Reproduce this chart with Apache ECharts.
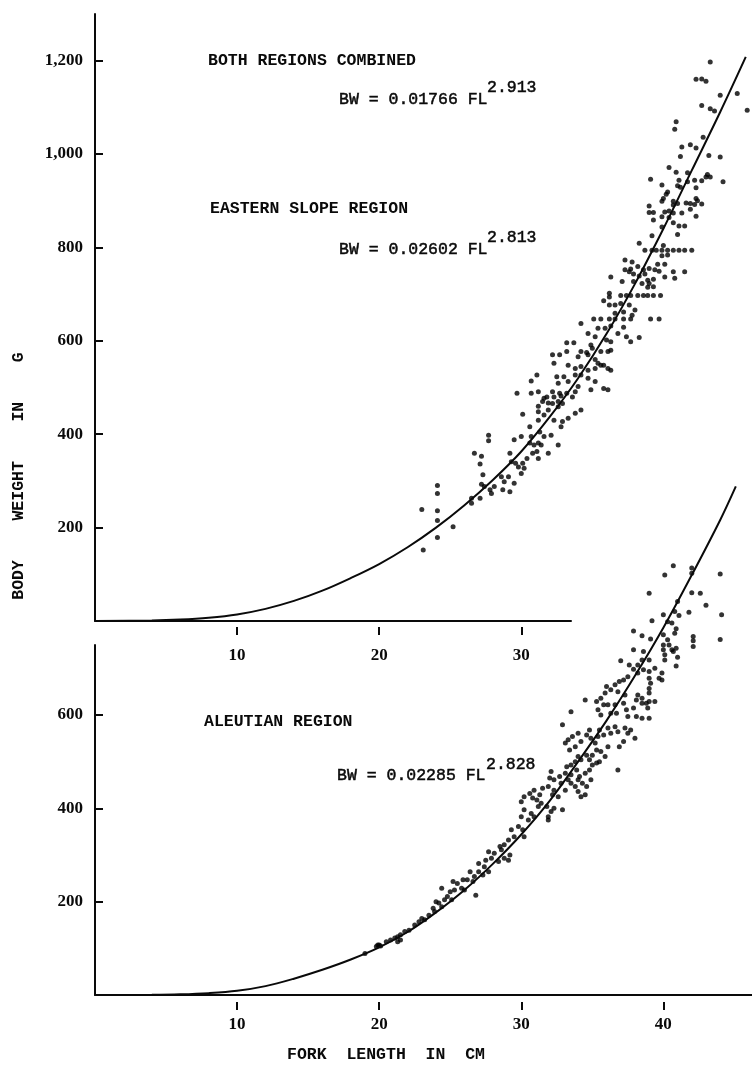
<!DOCTYPE html>
<html>
<head>
<meta charset="utf-8">
<script src="https://cdn.jsdelivr.net/npm/echarts@6/dist/echarts.min.js"></script>
<style>
html,body{margin:0;padding:0;background:#fff;}
#chart{width:752px;height:1066px;}
</style>
</head>
<body>
<div id="chart"></div>
<script>
// ---- Data ----
// Upper panel (Eastern Slope region) points: [fork length cm, body weight g]
const eastPoints = [
[43.3,1197],[42.3,1160],[42.7,1161],[43.0,1156],[44.0,1126],[45.2,1130],[42.7,1104],[43.3,1097],[43.6,1092],[45.9,1094],
[40.9,1069],[40.8,1053],[42.8,1036],[41.3,1015],[41.9,1020],[42.3,1013],[41.2,995],[43.2,997],[44.0,994],[40.4,971],
[39.1,946],[39.9,934],[40.9,961],[41.7,960],[41.1,944],[41.7,941],[42.2,944],[43.1,956],[43.3,951],[43.0,951],
[42.7,943],[44.2,941],[41.0,932],[41.2,929],[42.3,928],[40.3,919],[40.2,914],[40.0,905],[39.9,899],[42.3,905],
[42.4,900],[40.7,899],[40.7,891],[41.0,894],[41.6,895],[41.9,894],[42.2,892],[42.7,893],[39.0,889],[39.0,875],
[39.3,875],[40.1,876],[40.4,878],[40.7,874],[41.3,874],[41.9,882],[39.9,866],[40.4,864],[42.3,867],
[40.7,853],[41.1,846],[41.5,846],[39.3,859],[39.9,844],[41.0,828],[39.2,825],[38.3,809],[40.0,804],
[38.7,794],[39.2,794],[39.5,794],[39.9,794],[40.3,794],[40.7,794],[41.1,794],[41.5,794],[42.0,794],
[39.9,782],[40.3,784],[37.3,773],[37.8,769],
[39.6,764],[40.1,764],[40.7,748],[41.5,748],[40.8,734],[40.1,737],[39.7,749],[39.4,752],[39.0,755],
[37.3,752],[37.6,748],[37.7,754],[37.9,743],[38.3,739],[38.2,759],[38.6,752],[38.7,743],[38.9,730],[39.3,732],
[36.3,737],[37.1,727],[37.9,727],[38.5,723],[39.0,723],[39.3,716],[38.9,715],[36.2,702],[36.2,694],
[37.0,697],[37.4,697],[37.7,697],[38.2,697],[38.6,697],[38.9,697],[39.3,697],[39.8,697],
[35.8,686],[36.2,677],[36.6,677],[37.0,680],[37.6,677],[38.0,666],[37.8,655],[36.6,659],[37.2,662],
[34.2,637],[35.1,647],[35.6,647],[36.2,647],[36.6,647],[37.2,647],[37.7,647],[39.1,647],[39.7,647],
[35.4,627],[35.9,627],[36.3,632],[37.2,629],[36.8,616],
[34.7,616],[35.2,609],[36.0,602],[36.3,598],[37.4,609],[37.7,598],[38.3,607],
[33.2,596],[33.7,596],[34.9,591],[35.0,584],[34.2,577],[34.6,575],[35.6,577],[36.1,577],[36.3,580],
[32.2,570],[32.7,570],[33.2,577],[34.0,566],[34.7,570],[35.2,560],[35.4,552],[35.6,548],[36.3,537],[32.3,552],
[33.3,548],[33.8,541],[34.2,545],[34.7,537],[35.2,541],[35.8,548],[36.1,541],
[32.5,523],[33.0,523],[33.8,527],[34.2,527],[34.7,520],[35.2,513],[32.6,509],[33.3,513],[34.0,502],[34.9,495],
[35.8,498],[36.1,495],[32.2,491],[32.7,488],[33.2,488],[33.8,491],
[31.8,480],[32.3,480],[32.8,482],[33.6,480],
[23.0,239],[24.1,290],[24.1,273],[24.1,236],[24.1,215],[24.1,179],[23.1,152],[25.2,202],[26.7,359],[27.2,353],
[27.1,336],[27.7,398],[27.7,386],[27.3,313],[27.2,293],[27.4,288],[27.8,281],[27.9,273],[28.1,288],[28.6,309],
[28.7,281],[28.8,298],[29.1,309],[29.2,277],[29.5,295],[27.1,263],[26.5,252],[26.5,263],[29.2,359],[29.3,341],
[29.6,338],[29.8,330],[30.0,316],[30.1,338],[30.4,348],[30.2,327],[29.5,388],[30.0,395],[30.6,381],[30.7,395],
[30.9,377],[31.2,381],[31.4,377],[31.1,363],[31.2,348],[30.8,359],[31.9,359],[32.6,377],[32.1,398],[31.6,395],
[31.3,405],[30.6,416],[30.1,443],[31.2,430],[31.6,441],[31.2,448],[31.9,452],[32.3,430],[32.8,416],[32.9,427],
[33.3,434],[33.8,445],[34.2,452],[32.6,459],[31.5,470],[31.2,460],[29.7,488],[30.7,514],[30.7,488],[31.1,527],
[31.2,491],[31.6,477],[31.9,467],[32.2,466],[32.6,470],[32.9,466]
];

// Lower panel (Aleutian region) points
const aleutianPoints = [
[40.7,920],[42.0,915],[42.0,904],[40.1,900],[44.0,902],[39.0,861],[42.0,862],[42.6,861],[41.0,843],[43.0,835],
[40.8,822],[41.8,820],[40.0,815],[41.1,813],[44.1,815],[39.2,802],[40.3,800],[40.6,797],[40.9,785],[40.8,775],
[37.9,780],[38.5,770],[39.1,763],[40.0,772],[40.3,761],[40.4,750],[40.0,750],[40.0,740],[40.1,729],[40.1,718],
[40.6,740],[40.7,736],[40.9,743],[41.0,724],[40.9,705],[42.1,768],[42.1,759],[42.1,747],[44.0,762],
[37.9,740],[38.6,736],[39.0,718],[38.5,718],[38.2,707],[37.6,707],[37.0,716],[37.9,698],[38.2,690],[38.6,697],
[39.0,693],[39.0,679],[39.1,668],[39.0,657],[39.0,647],[39.0,629],[38.9,615],[39.0,593],[39.9,690],[39.7,679],
[39.9,675],[39.4,700],[37.5,682],[37.2,675],[36.9,672],[36.6,665],[36.0,661],[36.3,654],[36.8,650],[37.3,643],
[35.9,647],[35.6,636],[35.3,629],[34.5,632],[35.8,622],[36.1,622],[36.6,622],[37.2,625],[37.4,611],[37.9,615],
[38.1,632],[38.2,643],[38.5,636],[38.5,625],[38.8,625],[39.4,629],[35.4,611],[35.6,600],[36.3,604],[36.7,604],
[37.5,597],[38.1,597],[38.5,593],[33.5,607],
[32.9,579],[33.1,540],[33.3,547],[33.4,525],[33.6,554],[33.8,532],[34.0,561],[34.2,543],[34.6,557],[34.8,568],
[34.9,550],[35.2,540],[35.4,554],[35.5,568],[35.8,557],[36.1,572],[36.3,561],[36.6,575],[36.8,564],[37.3,572],
[37.5,561],[37.7,568],[38.0,550],[36.9,532],[37.2,543],[36.1,532],[35.9,511],[35.6,522],[35.3,525],[35.0,514],
[34.8,504],[34.6,514],[34.2,504],[34.0,511],[33.8,500],[33.5,493],[33.2,489],[33.1,475],[33.5,472],[33.9,482],
[34.1,468],[34.5,475],[34.8,482],[35.0,493],[35.3,497],[35.5,500],[36.8,482],[33.3,461],[33.5,454],[33.8,447],
[34.0,461],[34.3,454],[34.6,447],[34.9,461],[34.0,436],[34.2,425],[34.5,429],[32.9,397],[32.3,400],[32.1,393],
[31.9,382],[31.9,375],[31.8,404],[31.4,411],[31.2,404],[31.1,418],[30.8,422],[30.9,439],[30.6,432],[30.2,425],
[30.0,414],[30.2,397],[30.7,389],[30.9,382],[30.5,375],[30.0,382],[29.8,361],[30.1,354],[30.2,339],[29.5,339],
[29.3,354],[29.1,332],[28.8,322],[28.5,318],[32.1,479],[32.0,465],[32.3,461],[32.7,468],[32.8,454],[32.3,439],
[33.1,439],[31.9,447],[31.5,443],[31.3,429],[32.2,429],[32.6,425],
[29.2,300],[28.6,311],[28.1,304],[27.7,307],[27.9,293],[28.4,286],[28.8,293],[29.1,289],[27.5,289],[27.0,282],
[27.4,275],[27.7,264],[27.3,257],[27.0,264],[26.7,254],[26.4,264],[26.6,243],[26.8,214],[26.2,247],[25.9,247],
[25.5,239],[25.8,229],[26.0,225],[25.3,225],[25.2,243],[25.0,221],[24.8,211],[25.1,204],[24.4,229],[24.6,204],
[24.2,197],[24.0,200],[23.8,186],[23.9,179],[24.4,189],[23.5,171],[23.2,161],[23.0,164],[22.8,157],[22.5,150],
[22.1,139],[21.8,136],[21.5,129],[21.3,125],[21.1,122],[20.8,118],[20.5,114],[20.0,107],[19.8,104],[21.5,118],
[21.3,114],[19.0,89],[19.9,107],[20.1,105]
];

// Fitted curves as drawn in the reference (at 2 cm steps)
const combinedCurve = [
[0,0],[4,1],[6,3],[8,7],[10,14],[12,26],[14,43],[16,65],[18,92],[20,122],[22,158],[24,200],
[26,248],[28,302],[30,363],[32,437],[34,520],[36,615],[38,722],[40,840],[42,965],[44,1090],[45.8,1208]
];
const aleutianCurve = [
[0,0],[4,0.5],[6,1.5],[8,4],[10,9],[12,19],[14,35],[16,54],[18,76],[20,102],[22,135],[24,177],
[26,225],[28,281],[30,344],[32,416],[34,500],[36,588],[38,684],[40,787],[42,900],[44,1018],[45.1,1090]
];

// Tick values
const xTicksTop = [10, 20, 30];
const xTicksBottom = [10, 20, 30, 40];
const yTicksTop = [200, 400, 600, 800, 1000, 1200];
const yTicksBottom = [200, 400, 600];

// Texts
const yTitle = 'BODY    WEIGHT    IN    G';
const xTitle = 'FORK  LENGTH  IN  CM';
const panelLabels = ['BOTH REGIONS COMBINED', 'EASTERN SLOPE REGION', 'ALEUTIAN REGION'];
const equations = ['BW = 0.01766 FL', 'BW = 0.02602 FL', 'BW = 0.02285 FL'];
const exponents = ['2.913', '2.813', '2.828'];

// ---- Chart ----
const INK = '#0a0a0a';
const PX_PER_CM = 14.209;
const tickFont = {fontFamily: 'Liberation Serif', fontWeight: 'bold', fontSize: 17, color: INK};
const fmt = v => v >= 1000 ? Math.floor(v/1000) + ',' + String(v % 1000).padStart(3, '0') : String(v);

const chart = echarts.init(document.getElementById('chart'), null, {renderer: 'canvas'});

function lineAxis(grid, max) {
  return {type: 'value', gridIndex: grid, position: 'bottom', min: 0, max: max,
    axisLine: {show: true, onZero: false, lineStyle: {color: INK, width: 2}},
    axisTick: {show: false}, axisLabel: {show: false}, splitLine: {show: false}};
}
function tickAxis(grid, max, ticks, offset, margin) {
  return {type: 'value', gridIndex: grid, position: 'bottom', min: 0, max: max, offset: offset,
    axisLine: {show: false, onZero: false},
    axisTick: {show: true, customValues: ticks, length: 8, lineStyle: {color: INK, width: 2}},
    axisLabel: Object.assign({show: true, customValues: ticks, margin: margin}, tickFont),
    splitLine: {show: false}};
}
function yAxis(grid, max, ticks) {
  return {type: 'value', gridIndex: grid, position: 'left', min: 0, max: max,
    axisLine: {show: true, onZero: false, lineStyle: {color: INK, width: 2}},
    axisTick: {show: true, inside: true, customValues: ticks, length: 8, lineStyle: {color: INK, width: 2}},
    axisLabel: Object.assign({show: true, customValues: ticks, margin: 12, formatter: fmt}, tickFont),
    splitLine: {show: false}};
}
function hiddenAxis(grid, max, pos) {
  return {type: 'value', gridIndex: grid, position: pos, min: 0, max: max, show: false,
    splitLine: {show: false}};
}

const monoBold = {fontFamily: 'Liberation Mono', fontWeight: 'bold', fontSize: 16.5, fill: INK};
const monoEq = {fontFamily: 'Liberation Mono', fontWeight: 'normal', fontSize: 16.5, fill: INK, stroke: INK, lineWidth: 0.5};

function txt(x, y, text, style, extra) {
  return Object.assign({type: 'text', x: x, y: y,
    style: Object.assign({text: text, align: 'left', verticalAlign: 'middle'}, style)}, extra || {});
}

const option = {
  backgroundColor: '#ffffff',
  animation: false,
  grid: [
    {left: 95, top: 14, width: 33.5 * PX_PER_CM, height: 607, outerBoundsMode: 'none', containLabel: false},
    {left: 95, top: 645, width: 46.5 * PX_PER_CM, height: 350, outerBoundsMode: 'none', containLabel: false},
    {left: 95, top: 14, width: 46.5 * PX_PER_CM, height: 607, outerBoundsMode: 'none', containLabel: false}
  ],
  xAxis: [
    lineAxis(0, 33.5),
    tickAxis(0, 33.5, xTicksTop, 6, 20),
    lineAxis(1, 46.5),
    tickAxis(1, 46.5, xTicksBottom, 7, 14),
    hiddenAxis(2, 46.5, 'bottom')
  ],
  yAxis: [
    yAxis(0, 1300, yTicksTop),
    yAxis(1, 750, yTicksBottom),
    hiddenAxis(2, 1300, 'left')
  ],
  series: [
    {type: 'scatter', xAxisIndex: 4, yAxisIndex: 2, data: eastPoints, symbol: 'circle', symbolSize: 5,
     itemStyle: {color: '#000'}, clip: false, silent: true},
    {type: 'line', xAxisIndex: 4, yAxisIndex: 2, data: combinedCurve, smooth: 0.35,
     showSymbol: false, lineStyle: {color: INK, width: 2}, clip: false, silent: true},
    {type: 'scatter', xAxisIndex: 2, yAxisIndex: 1, data: aleutianPoints, symbol: 'circle', symbolSize: 5,
     itemStyle: {color: '#000'}, clip: false, silent: true},
    {type: 'line', xAxisIndex: 2, yAxisIndex: 1, data: aleutianCurve, smooth: 0.35,
     showSymbol: false, lineStyle: {color: INK, width: 2}, clip: false, silent: true}
  ],
  graphic: [
    txt(208, 61, panelLabels[0], monoBold),
    txt(339, 100, equations[0], monoEq),
    txt(487, 88, exponents[0], monoEq),
    txt(210, 209, panelLabels[1], monoBold),
    txt(339, 250, equations[1], monoEq),
    txt(487, 238, exponents[1], monoEq),
    txt(204, 722, panelLabels[2], monoBold),
    txt(337, 776, equations[2], monoEq),
    txt(486, 765, exponents[2], monoEq),
    txt(386, 1055, xTitle, Object.assign({}, monoBold, {align: 'center'})),
    txt(19, 476, yTitle, Object.assign({}, monoBold, {align: 'center'}), {rotation: Math.PI / 2})
  ]
};
chart.setOption(option);
</script>
</body>
</html>
